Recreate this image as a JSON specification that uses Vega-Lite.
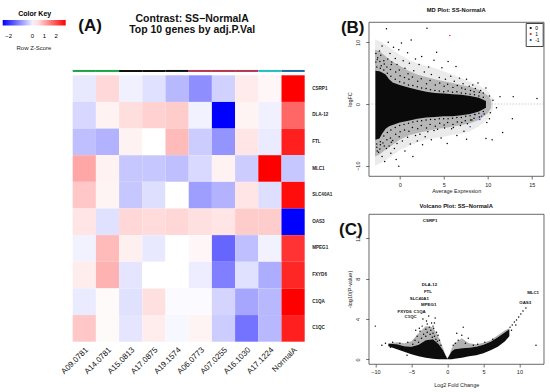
{
  "$schema": "https://vega.github.io/schema/vega-lite/v6.json",
  "padding": {"left": 2.7, "top": 6, "right": 0, "bottom": 0},
  "background": "white",
  "config": {
    "font": "Liberation Sans",
    "view": {"stroke": null},
    "axis": {"grid": false, "domain": false, "tickSize": 3, "tickColor": "#333", "tickWidth": 0.7, "labelFontSize": 5.5, "labelColor": "#222", "titleFontSize": 5.5, "titleFontWeight": "normal", "titleColor": "#222"},
    "title": {"color": "#111"}
  },
  "datasets": {
    "heat": [
      {"g":"CSRP1","s":"A09.0781","z":-0.09},{"g":"CSRP1","s":"A14.0781","z":0.55},{"g":"CSRP1","s":"A15.0813","z":-0.01},{"g":"CSRP1","s":"A17.0875","z":-0.17},{"g":"CSRP1","s":"A19.1574","z":-0.59},{"g":"CSRP1","s":"A06.0773","z":-1.02},{"g":"CSRP1","s":"A07.0255","z":-0.33},{"g":"CSRP1","s":"A16.1030","z":0.36},{"g":"CSRP1","s":"A17.1224","z":0.23},{"g":"CSRP1","s":"NormalA","z":2.8},
      {"g":"DLA-12","s":"A09.0781","z":-0.27},{"g":"DLA-12","s":"A14.0781","z":0.28},{"g":"DLA-12","s":"A15.0813","z":0.49},{"g":"DLA-12","s":"A17.0875","z":0.63},{"g":"DLA-12","s":"A19.1574","z":0.68},{"g":"DLA-12","s":"A06.0773","z":0.02},{"g":"DLA-12","s":"A07.0255","z":-2.5},{"g":"DLA-12","s":"A16.1030","z":0.26},{"g":"DLA-12","s":"A17.1224","z":-0.01},{"g":"DLA-12","s":"NormalA","z":1.74},
      {"g":"FTL","s":"A09.0781","z":-0.51},{"g":"FTL","s":"A14.0781","z":-0.65},{"g":"FTL","s":"A15.0813","z":0.28},{"g":"FTL","s":"A17.0875","z":0.15},{"g":"FTL","s":"A19.1574","z":0.87},{"g":"FTL","s":"A06.0773","z":-0.38},{"g":"FTL","s":"A07.0255","z":-0.96},{"g":"FTL","s":"A16.1030","z":0.42},{"g":"FTL","s":"A17.1224","z":-0.06},{"g":"FTL","s":"NormalA","z":2.48},
      {"g":"MLC1","s":"A09.0781","z":1.08},{"g":"MLC1","s":"A14.0781","z":0.28},{"g":"MLC1","s":"A15.0813","z":-0.43},{"g":"MLC1","s":"A17.0875","z":-0.43},{"g":"MLC1","s":"A19.1574","z":-0.51},{"g":"MLC1","s":"A06.0773","z":-0.25},{"g":"MLC1","s":"A07.0255","z":0.28},{"g":"MLC1","s":"A16.1030","z":-0.38},{"g":"MLC1","s":"A17.1224","z":2.8},{"g":"MLC1","s":"NormalA","z":-0.43},
      {"g":"SLC40A1","s":"A09.0781","z":0.73},{"g":"SLC40A1","s":"A14.0781","z":0.26},{"g":"SLC40A1","s":"A15.0813","z":-0.43},{"g":"SLC40A1","s":"A17.0875","z":-0.19},{"g":"SLC40A1","s":"A19.1574","z":0.15},{"g":"SLC40A1","s":"A06.0773","z":-0.86},{"g":"SLC40A1","s":"A07.0255","z":-0.65},{"g":"SLC40A1","s":"A16.1030","z":0.42},{"g":"SLC40A1","s":"A17.1224","z":-0.19},{"g":"SLC40A1","s":"NormalA","z":2.67},
      {"g":"OAS3","s":"A09.0781","z":0.42},{"g":"OAS3","s":"A14.0781","z":-0.17},{"g":"OAS3","s":"A15.0813","z":0.57},{"g":"OAS3","s":"A17.0875","z":0.52},{"g":"OAS3","s":"A19.1574","z":0.57},{"g":"OAS3","s":"A06.0773","z":0.47},{"g":"OAS3","s":"A07.0255","z":0.42},{"g":"OAS3","s":"A16.1030","z":0.68},{"g":"OAS3","s":"A17.1224","z":0.68},{"g":"OAS3","s":"NormalA","z":-2.5},
      {"g":"MPEG1","s":"A09.0781","z":0.02},{"g":"MPEG1","s":"A14.0781","z":0.87},{"g":"MPEG1","s":"A15.0813","z":0.31},{"g":"MPEG1","s":"A17.0875","z":-0.09},{"g":"MPEG1","s":"A19.1574","z":0.15},{"g":"MPEG1","s":"A06.0773","z":0.23},{"g":"MPEG1","s":"A07.0255","z":-1.44},{"g":"MPEG1","s":"A16.1030","z":-0.51},{"g":"MPEG1","s":"A17.1224","z":0.02},{"g":"MPEG1","s":"NormalA","z":2.27},
      {"g":"FXYD6","s":"A09.0781","z":0.34},{"g":"FXYD6","s":"A14.0781","z":0.95},{"g":"FXYD6","s":"A15.0813","z":-0.12},{"g":"FXYD6","s":"A17.0875","z":0.15},{"g":"FXYD6","s":"A19.1574","z":0.15},{"g":"FXYD6","s":"A06.0773","z":-0.04},{"g":"FXYD6","s":"A07.0255","z":-1.18},{"g":"FXYD6","s":"A16.1030","z":-0.17},{"g":"FXYD6","s":"A17.1224","z":-0.7},{"g":"FXYD6","s":"NormalA","z":2.4},
      {"g":"C1QA","s":"A09.0781","z":-0.06},{"g":"C1QA","s":"A14.0781","z":0.2},{"g":"C1QA","s":"A15.0813","z":-0.17},{"g":"C1QA","s":"A17.0875","z":0.47},{"g":"C1QA","s":"A19.1574","z":0.1},{"g":"C1QA","s":"A06.0773","z":0.1},{"g":"C1QA","s":"A07.0255","z":-0.3},{"g":"C1QA","s":"A16.1030","z":-0.78},{"g":"C1QA","s":"A17.1224","z":-0.59},{"g":"C1QA","s":"NormalA","z":2.8},
      {"g":"C1QC","s":"A09.0781","z":0.73},{"g":"C1QC","s":"A14.0781","z":0.2},{"g":"C1QC","s":"A15.0813","z":-0.12},{"g":"C1QC","s":"A17.0875","z":0.34},{"g":"C1QC","s":"A19.1574","z":0.07},{"g":"C1QC","s":"A06.0773","z":0.26},{"g":"C1QC","s":"A07.0255","z":-0.38},{"g":"C1QC","s":"A16.1030","z":-1.31},{"g":"C1QC","s":"A17.1224","z":-0.59},{"g":"C1QC","s":"NormalA","z":2.48}
    ],
    "cols": [
      {"s":"A09.0781","grp":"g1"},{"s":"A14.0781","grp":"g1"},{"s":"A15.0813","grp":"g2"},{"s":"A17.0875","grp":"g2"},{"s":"A19.1574","grp":"g2"},{"s":"A06.0773","grp":"g3"},{"s":"A07.0255","grp":"g3"},{"s":"A16.1030","grp":"g3"},{"s":"A17.1224","grp":"g4"},{"s":"NormalA","grp":"g5"}
    ],
    "mdcore": [
      {"x":-2.75,"lo":-5.8,"hi":5.4},{"x":-2.3,"lo":-5.6,"hi":5.3},{"x":-2.0,"lo":-4.8,"hi":5.1},{"x":-1.6,"lo":-4.0,"hi":4.8},{"x":-1.2,"lo":-3.6,"hi":4.0},{"x":-0.8,"lo":-3.4,"hi":3.5},{"x":0,"lo":-3.0,"hi":3.1},{"x":1,"lo":-2.7,"hi":2.7},{"x":2,"lo":-2.4,"hi":2.3},{"x":3,"lo":-2.2,"hi":2.0},{"x":4,"lo":-2.1,"hi":1.8},{"x":5,"lo":-2.0,"hi":1.7},{"x":6,"lo":-2.0,"hi":1.6},{"x":7,"lo":-1.8,"hi":1.5},{"x":8,"lo":-1.6,"hi":1.3},{"x":9,"lo":-1.2,"hi":1.0},{"x":9.8,"lo":-0.6,"hi":0.5}
    ],
    "mdhalo": [
      {"x":-2.8,"lo":-8.5,"hi":8.8},{"x":-2.3,"lo":-8.2,"hi":8.6},{"x":-1.8,"lo":-7.6,"hi":8.0},{"x":-1,"lo":-6.8,"hi":7.0},{"x":0,"lo":-5.8,"hi":6.2},{"x":1,"lo":-5.1,"hi":5.4},{"x":2,"lo":-4.7,"hi":4.8},{"x":3,"lo":-4.4,"hi":4.4},{"x":4,"lo":-4.1,"hi":4.0},{"x":5,"lo":-3.9,"hi":3.7},{"x":6,"lo":-3.7,"hi":3.4},{"x":7,"lo":-3.4,"hi":3.1},{"x":8,"lo":-3.1,"hi":2.8},{"x":9,"lo":-2.6,"hi":2.3},{"x":10,"lo":-1.5,"hi":1.4},{"x":10.4,"lo":-0.6,"hi":0.6}
    ],
    "mdhalo2": [
      {"x":-2.8,"lo":-10,"hi":10.5},{"x":-2,"lo":-9.5,"hi":10},{"x":-1,"lo":-8.5,"hi":9},{"x":0,"lo":-7.5,"hi":8},{"x":1,"lo":-6.8,"hi":7.2},{"x":2,"lo":-6.2,"hi":6.6},{"x":3,"lo":-5.8,"hi":6.2},{"x":4,"lo":-5.5,"hi":5.8},{"x":5,"lo":-5.3,"hi":5.3},{"x":6,"lo":-5.0,"hi":4.8},{"x":7,"lo":-4.8,"hi":4.2},{"x":8,"lo":-4.4,"hi":3.6},{"x":9,"lo":-3.6,"hi":3.0},{"x":10,"lo":-2.5,"hi":2.2},{"x":10.6,"lo":-0.8,"hi":0.8}
    ],
    "mdpts": [
      {"x":-2.7,"y":6.8,"st":"0"},{"x":-2.5,"y":7.5,"st":"0"},{"x":-2.3,"y":8.6,"st":"0"},{"x":-2.0,"y":9.4,"st":"0"},{"x":-1.8,"y":7.0,"st":"0"},{"x":-1.5,"y":12.2,"st":"0"},{"x":-2.6,"y":-7.0,"st":"0"},{"x":-2.4,"y":-7.8,"st":"0"},{"x":-2.2,"y":-6.6,"st":"0"},{"x":-2.0,"y":-8.5,"st":"0"},{"x":-1.7,"y":-9.3,"st":"0"},{"x":-1.5,"y":-7.2,"st":"0"},{"x":-2.7,"y":8.2,"st":"0"},{"x":-2.1,"y":6.2,"st":"0"},{"x":-1.9,"y":-6.3,"st":"0"},
      {"x":-1.3,"y":10.0,"st":"0"},{"x":-1.1,"y":8.2,"st":"0"},{"x":-0.9,"y":6.8,"st":"0"},{"x":-0.7,"y":9.2,"st":"0"},{"x":-0.5,"y":7.4,"st":"0"},{"x":-0.3,"y":6.4,"st":"0"},{"x":-0.1,"y":8.8,"st":"0"},{"x":-1.2,"y":-6.8,"st":"0"},{"x":-1.0,"y":-8.0,"st":"0"},{"x":-0.8,"y":-5.9,"st":"0"},{"x":-0.6,"y":-7.2,"st":"0"},{"x":-0.3,"y":-6.4,"st":"0"},{"x":-0.1,"y":-10.1,"st":"0"},{"x":-0.4,"y":-9.0,"st":"0"},
      {"x":0.2,"y":9.9,"st":"0"},{"x":0.4,"y":7.0,"st":"0"},{"x":0.6,"y":5.8,"st":"0"},{"x":0.9,"y":8.3,"st":"0"},{"x":1.1,"y":6.6,"st":"0"},{"x":1.3,"y":10.4,"st":"0"},{"x":1.6,"y":5.4,"st":"0"},{"x":1.8,"y":7.3,"st":"0"},{"x":0.3,"y":-6.0,"st":"0"},{"x":0.6,"y":-7.6,"st":"0"},{"x":0.9,"y":-5.4,"st":"0"},{"x":1.2,"y":-6.5,"st":"0"},{"x":1.5,"y":-8.5,"st":"0"},{"x":1.8,"y":-5.1,"st":"0"},{"x":2.0,"y":-6.0,"st":"0"},
      {"x":2.2,"y":6.4,"st":"0"},{"x":2.5,"y":7.7,"st":"0"},{"x":2.8,"y":5.2,"st":"0"},{"x":3.1,"y":12.3,"st":"0"},{"x":3.3,"y":6.0,"st":"0"},{"x":3.6,"y":4.8,"st":"0"},{"x":3.9,"y":7.1,"st":"0"},{"x":2.3,"y":-4.9,"st":"0"},{"x":2.6,"y":-6.6,"st":"0"},{"x":2.9,"y":-5.3,"st":"0"},{"x":3.2,"y":-4.5,"st":"0"},{"x":3.6,"y":-5.8,"st":"0"},{"x":3.9,"y":-4.3,"st":"0"},
      {"x":4.2,"y":8.4,"st":"0"},{"x":4.5,"y":4.3,"st":"0"},{"x":4.8,"y":5.9,"st":"0"},{"x":5.2,"y":4.0,"st":"0"},{"x":5.5,"y":6.9,"st":"0"},{"x":5.8,"y":4.5,"st":"0"},{"x":4.3,"y":-4.1,"st":"0"},{"x":4.7,"y":-5.5,"st":"0"},{"x":5.1,"y":-3.9,"st":"0"},{"x":5.4,"y":-6.4,"st":"0"},{"x":5.9,"y":-4.0,"st":"0"},
      {"x":6.2,"y":3.7,"st":"0"},{"x":6.4,"y":6.1,"st":"0"},{"x":6.8,"y":4.2,"st":"0"},{"x":7.2,"y":3.3,"st":"0"},{"x":7.6,"y":4.0,"st":"0"},{"x":7.9,"y":2.9,"st":"0"},{"x":6.1,"y":-3.8,"st":"0"},{"x":6.5,"y":-5.1,"st":"0"},{"x":6.9,"y":-3.5,"st":"0"},{"x":7.3,"y":-4.4,"st":"0"},{"x":7.7,"y":-3.2,"st":"0"},{"x":7.6,"y":-5.7,"st":"0"},
      {"x":8.3,"y":3.1,"st":"0"},{"x":8.6,"y":2.5,"st":"0"},{"x":8.9,"y":3.4,"st":"0"},{"x":9.2,"y":2.2,"st":"0"},{"x":9.5,"y":1.8,"st":"0"},{"x":9.8,"y":2.6,"st":"0"},{"x":8.2,"y":-2.6,"st":"0"},{"x":9.6,"y":-1.6,"st":"0"},{"x":9.8,"y":-5.6,"st":"0"},{"x":9.9,"y":-3.0,"st":"0"},
      {"x":10.2,"y":1.3,"st":"0"},{"x":10.3,"y":-1.4,"st":"0"},{"x":10.2,"y":-2.4,"st":"0"},{"x":10.5,"y":-5.8,"st":"0"},{"x":10.6,"y":0.6,"st":"0"},{"x":11.0,"y":-0.6,"st":"0"},{"x":11.4,"y":1.2,"st":"0"},{"x":11.7,"y":-4.6,"st":"0"},{"x":12.8,"y":-2.4,"st":"0"},{"x":12.9,"y":1.2,"st":"0"},{"x":15.6,"y":0.9,"st":"0"},
      {"x":-2.6,"y":6.0,"st":"0"},{"x":-2.55,"y":7.2,"st":"0"},{"x":-2.2,"y":5.8,"st":"0"},{"x":-2.25,"y":6.9,"st":"0"},{"x":-2.15,"y":7.9,"st":"0"},{"x":-1.8,"y":5.5,"st":"0"},{"x":-1.75,"y":6.5,"st":"0"},{"x":-1.4,"y":5.0,"st":"0"},{"x":-1.45,"y":6.0,"st":"0"},{"x":-1.35,"y":7.3,"st":"0"},{"x":-1.0,"y":4.5,"st":"0"},{"x":-1.05,"y":5.6,"st":"0"},{"x":-0.95,"y":6.4,"st":"0"},{"x":-0.5,"y":4.0,"st":"0"},{"x":-0.45,"y":5.2,"st":"0"},{"x":0.0,"y":3.6,"st":"0"},{"x":0.05,"y":4.6,"st":"0"},{"x":-0.05,"y":5.5,"st":"0"},{"x":0.5,"y":3.4,"st":"0"},{"x":0.55,"y":4.3,"st":"0"},{"x":1.0,"y":3.1,"st":"0"},{"x":1.05,"y":4.0,"st":"0"},{"x":0.95,"y":4.9,"st":"0"},{"x":1.5,"y":3.0,"st":"0"},{"x":1.45,"y":4.4,"st":"0"},{"x":2.0,"y":2.8,"st":"0"},{"x":2.05,"y":3.7,"st":"0"},{"x":2.5,"y":2.6,"st":"0"},{"x":2.45,"y":4.1,"st":"0"},{"x":3.0,"y":2.5,"st":"0"},{"x":3.05,"y":3.3,"st":"0"},{"x":3.5,"y":2.3,"st":"0"},{"x":3.45,"y":3.8,"st":"0"},{"x":4.0,"y":2.2,"st":"0"},{"x":4.05,"y":3.1,"st":"0"},{"x":4.5,"y":2.1,"st":"0"},{"x":4.55,"y":3.4,"st":"0"},{"x":5.0,"y":2.0,"st":"0"},{"x":5.05,"y":2.9,"st":"0"},{"x":5.5,"y":2.1,"st":"0"},{"x":5.45,"y":3.2,"st":"0"},{"x":6.0,"y":1.9,"st":"0"},{"x":6.05,"y":2.7,"st":"0"},{"x":6.5,"y":2.0,"st":"0"},{"x":6.55,"y":3.0,"st":"0"},{"x":7.0,"y":1.8,"st":"0"},{"x":7.05,"y":2.6,"st":"0"},{"x":7.5,"y":1.7,"st":"0"},{"x":7.45,"y":2.4,"st":"0"},{"x":8.0,"y":1.6,"st":"0"},{"x":8.05,"y":2.2,"st":"0"},{"x":8.5,"y":1.5,"st":"0"},{"x":8.45,"y":2.0,"st":"0"},{"x":9.0,"y":1.3,"st":"0"},{"x":9.05,"y":1.9,"st":"0"},{"x":9.5,"y":1.1,"st":"0"},
      {"x":-2.6,"y":-6.5,"st":"0"},{"x":-2.55,"y":-7.6,"st":"0"},{"x":-2.2,"y":-6.1,"st":"0"},{"x":-2.25,"y":-7.3,"st":"0"},{"x":-1.8,"y":-5.2,"st":"0"},{"x":-1.75,"y":-6.8,"st":"0"},{"x":-1.4,"y":-4.6,"st":"0"},{"x":-1.45,"y":-5.8,"st":"0"},{"x":-1.0,"y":-4.2,"st":"0"},{"x":-1.05,"y":-5.5,"st":"0"},{"x":-0.95,"y":-6.2,"st":"0"},{"x":-0.5,"y":-3.8,"st":"0"},{"x":-0.45,"y":-4.9,"st":"0"},{"x":0.0,"y":-3.5,"st":"0"},{"x":0.05,"y":-4.5,"st":"0"},{"x":-0.05,"y":-5.3,"st":"0"},{"x":0.5,"y":-3.3,"st":"0"},{"x":0.55,"y":-4.2,"st":"0"},{"x":1.0,"y":-3.1,"st":"0"},{"x":1.05,"y":-4.4,"st":"0"},{"x":1.5,"y":-2.9,"st":"0"},{"x":1.45,"y":-3.8,"st":"0"},{"x":2.0,"y":-2.8,"st":"0"},{"x":2.05,"y":-4.0,"st":"0"},{"x":2.5,"y":-2.7,"st":"0"},{"x":2.45,"y":-3.5,"st":"0"},{"x":3.0,"y":-2.6,"st":"0"},{"x":3.05,"y":-3.9,"st":"0"},{"x":3.5,"y":-2.5,"st":"0"},{"x":3.45,"y":-3.3,"st":"0"},{"x":4.0,"y":-2.5,"st":"0"},{"x":4.05,"y":-3.6,"st":"0"},{"x":4.5,"y":-2.4,"st":"0"},{"x":4.55,"y":-3.1,"st":"0"},{"x":5.0,"y":-2.4,"st":"0"},{"x":5.05,"y":-3.4,"st":"0"},{"x":5.5,"y":-2.4,"st":"0"},{"x":5.45,"y":-3.0,"st":"0"},{"x":6.0,"y":-2.3,"st":"0"},{"x":6.05,"y":-3.3,"st":"0"},{"x":6.5,"y":-2.2,"st":"0"},{"x":6.55,"y":-2.9,"st":"0"},{"x":7.0,"y":-2.2,"st":"0"},{"x":7.05,"y":-3.0,"st":"0"},{"x":7.5,"y":-2.0,"st":"0"},{"x":7.45,"y":-2.7,"st":"0"},{"x":8.0,"y":-1.9,"st":"0"},{"x":8.05,"y":-2.6,"st":"0"},{"x":8.5,"y":-1.7,"st":"0"},{"x":8.45,"y":-2.3,"st":"0"},{"x":9.0,"y":-1.5,"st":"0"},{"x":9.05,"y":-2.1,"st":"0"},{"x":9.5,"y":-1.2,"st":"0"},
      {"x":5.7,"y":11.1,"st":"1"},
      {"x":8.0,"y":-3.7,"st":"-1"},{"x":8.6,"y":-1.7,"st":"-1"},{"x":9.1,"y":-2.5,"st":"-1"},{"x":9.3,"y":-2.0,"st":"-1"}
    ],
    "vcore": [
      {"x":-8.2,"lo":1.3,"hi":1.55},{"x":-7,"lo":1.0,"hi":1.5},{"x":-6,"lo":0.75,"hi":1.3},{"x":-5,"lo":0.5,"hi":1.25},{"x":-4,"lo":0.3,"hi":1.45},{"x":-3,"lo":0.15,"hi":1.9},{"x":-2,"lo":0.05,"hi":2.0},{"x":-1.2,"lo":0.02,"hi":1.5},{"x":-0.6,"lo":0,"hi":0.9},{"x":-0.2,"lo":0,"hi":0.3},{"x":0,"lo":0,"hi":0.05},{"x":0.2,"lo":0,"hi":0.3},{"x":0.6,"lo":0,"hi":0.8},{"x":1,"lo":0.05,"hi":1.0},{"x":2,"lo":0.15,"hi":1.1},{"x":3,"lo":0.3,"hi":1.15},{"x":4,"lo":0.4,"hi":1.25},{"x":5,"lo":0.6,"hi":1.45},{"x":6,"lo":0.9,"hi":1.75},{"x":7,"lo":1.25,"hi":2.2},{"x":8,"lo":1.8,"hi":2.7},{"x":8.6,"lo":2.3,"hi":3.0}
    ],
    "vhalo": [
      {"x":-8.2,"lo":1.55,"hi":1.6},{"x":-7,"lo":1.5,"hi":1.7},{"x":-6,"lo":1.3,"hi":1.6},{"x":-5,"lo":1.25,"hi":1.8},{"x":-4,"lo":1.45,"hi":2.6},{"x":-3,"lo":1.9,"hi":3.3},{"x":-2,"lo":2.0,"hi":3.2},{"x":-1.2,"lo":1.5,"hi":2.2},{"x":-0.6,"lo":0.9,"hi":1.1},{"x":-0.2,"lo":0.3,"hi":0.35},{"x":0,"lo":0.05,"hi":0.1},{"x":0.2,"lo":0.3,"hi":0.35},{"x":0.6,"lo":0.8,"hi":1.1},{"x":1,"lo":1.0,"hi":1.6},{"x":2,"lo":1.1,"hi":2.1},{"x":3,"lo":1.15,"hi":1.6},{"x":4,"lo":1.25,"hi":1.5},{"x":5,"lo":1.45,"hi":1.65},{"x":6,"lo":1.75,"hi":1.9},{"x":7,"lo":2.2,"hi":2.4},{"x":8,"lo":2.7,"hi":2.9},{"x":8.6,"lo":3.0,"hi":3.1}
    ],
    "vpts": [
      {"x":-4.8,"y":1.5},{"x":-4.5,"y":1.9},{"x":-4.2,"y":2.3},{"x":-4.0,"y":1.7},{"x":-3.8,"y":2.8},{"x":-3.6,"y":2.1},{"x":-3.5,"y":3.3},{"x":-3.3,"y":2.5},{"x":-3.4,"y":4.0},{"x":-3.0,"y":3.0},{"x":-3.0,"y":2.3},{"x":-2.9,"y":3.8},{"x":-2.8,"y":2.7},{"x":-2.8,"y":3.5},{"x":-2.6,"y":4.3},{"x":-2.5,"y":3.2},{"x":-2.4,"y":2.5},{"x":-2.3,"y":2.9},{"x":-2.2,"y":3.6},{"x":-2.1,"y":2.2},{"x":-2.0,"y":2.6},{"x":-2.0,"y":3.3},{"x":-1.9,"y":3.1},{"x":-1.8,"y":3.6},{"x":-1.8,"y":2.3},{"x":-1.7,"y":4.1},{"x":-1.6,"y":2.0},{"x":-1.5,"y":2.7},{"x":-1.4,"y":1.8},{"x":-1.3,"y":2.4},{"x":-1.1,"y":1.9},{"x":-0.9,"y":1.4},{"x":-3.9,"y":3.1},{"x":-4.4,"y":2.9},
      {"x":-10.0,"y":3.3},{"x":-9.1,"y":1.4},{"x":-8.6,"y":1.6},{"x":-7.6,"y":1.7},{"x":-6.6,"y":1.6},{"x":-5.6,"y":0.4},{"x":-5.5,"y":1.7},{"x":-6.3,"y":1.1},{"x":-7.9,"y":1.2},
      {"x":0.8,"y":1.4},{"x":1.1,"y":1.6},{"x":1.5,"y":1.9},{"x":2.0,"y":2.4},{"x":2.2,"y":3.2},{"x":2.9,"y":2.1},{"x":3.6,"y":1.4},{"x":1.3,"y":2.6},{"x":2.5,"y":1.6},{"x":4.2,"y":1.5},{"x":5.2,"y":1.7},{"x":6.3,"y":2.0},
      {"x":8.7,"y":3.2},{"x":9.0,"y":3.4},{"x":9.3,"y":3.7},{"x":9.6,"y":3.9},{"x":9.9,"y":4.2},{"x":10.2,"y":4.5},{"x":10.5,"y":4.8},{"x":10.9,"y":5.1},{"x":9.5,"y":3.4},{"x":8.9,"y":2.9},{"x":12.3,"y":1.4}
    ],
    "vlab": [
      {"gene":"CSRP1","x":-2.4,"y":13.7},{"gene":"DLA-12","x":-2.5,"y":7.4},{"gene":"FTL","x":-2.7,"y":6.7},{"gene":"SLC40A1","x":-3.9,"y":6.0},{"gene":"MPEG1","x":-2.6,"y":5.4},{"gene":"FXYD6","x":-5.95,"y":4.7},{"gene":"C1QA","x":-3.85,"y":4.7},{"gene":"C1QC","x":-5.1,"y":4.2},{"gene":"MLC1","x":11.9,"y":6.6},{"gene":"OAS3","x":10.8,"y":5.6}
    ]
  },
  "hconcat": [
    {
      "width": 232, "height": 319.7,
      "title": {"text": ["Contrast: SS\u2212NormalA", "Top 10 genes by adj.P.Val"], "fontSize": 10.5, "fontWeight": "bold", "anchor": "middle", "frame": "group", "offset": -26, "dx": 3.5, "lineHeight": 12},
      "layer": [
        {
          "data": {"name": "heat"},
          "mark": {"type": "rect"},
          "encoding": {
            "x": {"field": "s", "type": "nominal", "sort": ["A09.0781","A14.0781","A15.0813","A17.0875","A19.1574","A06.0773","A07.0255","A16.1030","A17.1224","NormalA"], "scale": {"paddingInner": 0, "paddingOuter": 0},
                  "axis": {"orient": "bottom", "labelAngle": -45, "labelFontSize": 8, "ticks": false, "domain": false, "title": null, "labelPadding": 4, "labelColor": "#111"}},
            "y": {"field": "g", "type": "nominal", "sort": ["CSRP1","DLA-12","FTL","MLC1","SLC40A1","OAS3","MPEG1","FXYD6","C1QA","C1QC"], "scale": {"paddingInner": 0, "paddingOuter": 1.0094, "align": 1},
                  "axis": {"orient": "right", "ticks": false, "domain": false, "title": null, "labelFontSize": 4.6, "labelFontWeight": "bold", "labelPadding": 7, "labelColor": "#222"}},
            "color": {"field": "z", "type": "quantitative", "scale": {"domain": [-2.5, 0.15, 2.8], "range": ["#0000ff", "#ffffff", "#ff0000"], "interpolate": "rgb"},
                      "legend": {"title": "Color Key", "orient": "none", "legendX": -70, "legendY": -12, "direction": "horizontal", "gradientLength": 63, "gradientThickness": 5.5, "values": [-2, 0, 1, 2], "labelOverlap": false, "titleFontSize": 7, "titleFontWeight": "bold", "titleAnchor": "middle", "titlePadding": 3, "labelFontSize": 6, "labelOffset": 7, "gradientStrokeWidth": 0}}
          }
        },
        {
          "data": {"name": "cols"},
          "mark": {"type": "rect"},
          "encoding": {
            "x": {"field": "s", "type": "nominal", "sort": ["A09.0781","A14.0781","A15.0813","A17.0875","A19.1574","A06.0773","A07.0255","A16.1030","A17.1224","NormalA"], "scale": {"paddingInner": 0, "paddingOuter": 0}, "axis": null},
            "y": {"datum": 0, "type": "quantitative", "scale": {"domain": [-135, 25]}, "axis": null},
            "y2": {"datum": 1},
            "color": {"field": "grp", "type": "nominal", "scale": {"domain": ["g1","g2","g3","g4","g5"], "range": ["#1ea446","#111111","#b4374e","#22bfc6","#1b6aa6"]}, "legend": null}
          }
        },
        {
          "data": {"values": [{}]},
          "mark": {"type": "text", "text": "(A)", "fontSize": 17, "fontWeight": "bold", "align": "center", "baseline": "middle", "color": "#111"},
          "encoding": {
            "x": {"datum": 0.75, "type": "quantitative", "scale": {"domain": [0, 10]}, "axis": null},
            "y": {"datum": 23, "type": "quantitative", "scale": {"domain": [-135, 25]}, "axis": null}
          }
        },
        {
          "data": {"values": [{}]},
          "mark": {"type": "text", "text": "Row Z-Score", "fontSize": 6, "align": "center", "baseline": "middle", "color": "#222"},
          "encoding": {
            "x": {"datum": -1.67, "type": "quantitative", "scale": {"domain": [0, 10]}, "axis": null},
            "y": {"datum": 12, "type": "quantitative", "scale": {"domain": [-135, 25]}, "axis": null}
          }
        }
      ],
      "resolve": {"scale": {"x": "independent", "y": "independent", "color": "independent"}, "axis": {"x": "independent", "y": "independent"}, "legend": {"color": "independent"}}
    },
    {
      "vconcat": [
        {
          "width": 175, "height": 154,
          "view": {"stroke": "#444", "strokeWidth": 0.8},
          "title": {"text": "MD Plot: SS-NormalA", "fontSize": 5.8, "fontWeight": "bold", "offset": 6},
          "layer": [
            {
              "data": {"name": "mdhalo2"},
              "mark": {"type": "area", "color": "#000", "opacity": 0.08},
              "encoding": {
                "x": {"field": "x", "type": "quantitative", "scale": {"domain": [-3.52, 16.36], "nice": false, "zero": false}, "title": "Average Expression", "axis": {"values": [0, 5, 10, 15], "labelPadding": 3, "titlePadding": 1}},
                "y": {"field": "lo", "type": "quantitative", "scale": {"domain": [-11.67, 13.3], "nice": false, "zero": false}, "title": "logFC", "axis": {"values": [-10, -5, 0, 5, 10], "labelAngle": -90, "labelPadding": 5, "titlePadding": 3}},
                "y2": {"field": "hi"}
              }
            },
            {
              "data": {"name": "mdhalo"},
              "mark": {"type": "area", "color": "#000", "opacity": 0.22},
              "encoding": {
                "x": {"field": "x", "type": "quantitative", "title": "Average Expression"},
                "y": {"field": "lo", "type": "quantitative", "title": "logFC"},
                "y2": {"field": "hi"}
              }
            },
            {
              "data": {"values": [{}]},
              "mark": {"type": "rule", "color": "#999", "strokeDash": [1, 2], "strokeWidth": 0.7},
              "encoding": {"y": {"datum": 0, "type": "quantitative"}}
            },
            {
              "data": {"name": "mdcore"},
              "mark": {"type": "area", "color": "#000", "opacity": 0.95},
              "encoding": {
                "x": {"field": "x", "type": "quantitative", "title": "Average Expression"},
                "y": {"field": "lo", "type": "quantitative", "title": "logFC"},
                "y2": {"field": "hi"}
              }
            },
            {
              "data": {"name": "mdpts"},
              "mark": {"type": "circle", "size": 2.2, "opacity": 1},
              "encoding": {
                "x": {"field": "x", "type": "quantitative", "title": "Average Expression"},
                "y": {"field": "y", "type": "quantitative", "title": "logFC"},
                "color": {"field": "st", "type": "nominal", "scale": {"domain": ["0", "1", "-1"], "range": ["#000000", "#e0201f", "#2040c0"]},
                          "legend": {"orient": "top-right", "title": null, "offset": 1, "padding": 2.5, "strokeColor": "#444", "fillColor": "white", "labelFontSize": 5, "symbolSize": 5, "symbolType": "circle", "rowPadding": 0, "labelOffset": 2, "cornerRadius": 0}}
              }
            },
            {
              "data": {"values": [{}]},
              "mark": {"type": "text", "text": "(B)", "fontSize": 17, "fontWeight": "bold", "align": "center", "baseline": "middle", "color": "#111"},
              "encoding": {"x": {"datum": -5.34, "type": "quantitative"}, "y": {"datum": 12.3, "type": "quantitative"}}
            }
          ]
        },
        {
          "width": 175, "height": 150,
          "view": {"stroke": "#444", "strokeWidth": 0.8},
          "title": {"text": "Volcano Plot: SS\u2212NormalA", "fontSize": 5.8, "fontWeight": "bold", "offset": 5},
          "layer": [
            {
              "data": {"name": "vhalo"},
              "mark": {"type": "area", "color": "#000", "opacity": 0.3},
              "encoding": {
                "x": {"field": "x", "type": "quantitative", "scale": {"domain": [-10.93, 13.37], "nice": false, "zero": false}, "title": "Log2 Fold Change", "axis": {"values": [-10, -5, 0, 5, 10], "labelPadding": 3, "titlePadding": 7}},
                "y": {"field": "lo", "type": "quantitative", "scale": {"domain": [-0.46, 14.43], "nice": false, "zero": false}, "title": "-log10(P-value)", "axis": {"values": [0, 2, 4, 6, 8, 10, 12, 14], "labelAngle": -90, "labelPadding": 5, "titlePadding": 3}},
                "y2": {"field": "hi"}
              }
            },
            {
              "data": {"name": "vcore"},
              "mark": {"type": "area", "color": "#000", "opacity": 0.95},
              "encoding": {
                "x": {"field": "x", "type": "quantitative", "title": "Log2 Fold Change"},
                "y": {"field": "lo", "type": "quantitative", "title": "-log10(P-value)"},
                "y2": {"field": "hi"}
              }
            },
            {
              "data": {"name": "vpts"},
              "mark": {"type": "circle", "size": 2.2, "color": "#000", "opacity": 1},
              "encoding": {
                "x": {"field": "x", "type": "quantitative", "title": "Log2 Fold Change"},
                "y": {"field": "y", "type": "quantitative", "title": "-log10(P-value)"}
              }
            },
            {
              "data": {"name": "vlab"},
              "mark": {"type": "text", "fontSize": 4.4, "fontWeight": "bold", "align": "center", "baseline": "middle", "color": "#111"},
              "encoding": {
                "x": {"field": "x", "type": "quantitative", "title": "Log2 Fold Change"},
                "y": {"field": "y", "type": "quantitative", "title": "-log10(P-value)"},
                "text": {"field": "gene"}
              }
            },
            {
              "data": {"values": [{}]},
              "mark": {"type": "text", "text": "(C)", "fontSize": 17, "fontWeight": "bold", "align": "center", "baseline": "middle", "color": "#111"},
              "encoding": {"x": {"datum": -13.4, "type": "quantitative"}, "y": {"datum": 12.85, "type": "quantitative"}}
            }
          ]
        }
      ],
      "spacing": 38,
      "bounds": "flush",
      "resolve": {"scale": {"color": "independent"}, "legend": {"color": "independent"}}
    }
  ],
  "spacing": 64,
  "bounds": "flush",
  "resolve": {"scale": {"color": "independent"}, "legend": {"color": "independent"}}
}
